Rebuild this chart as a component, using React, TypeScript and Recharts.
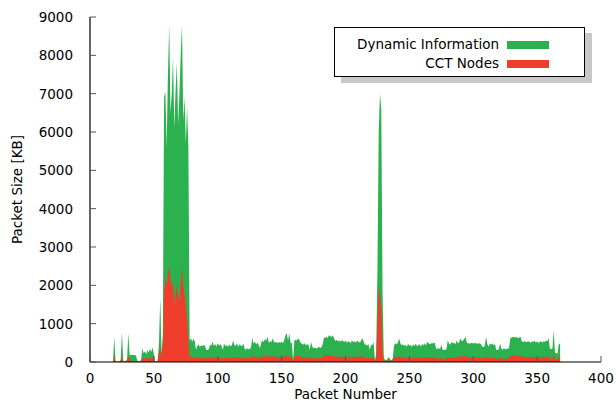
import { ComposedChart, Area, XAxis, YAxis } from 'recharts';

// packet sizes in KB, one value per packet starting at FIRST_PACKET
const FIRST_PACKET = 18;

const xTicks = [0, 50, 100, 150, 200, 250, 300, 350, 400];
const yTicks = [0, 1000, 2000, 3000, 4000, 5000, 6000, 7000, 8000, 9000];

// total size per packet (green, "Dynamic Information")
const totalSize = [
  0, 660, 20, 10, 10, 20, 60, 780, 40, 20,
  30, 60, 750, 180, 180, 180, 180, 180, 170, 30,
  20, 10, 60, 360, 230, 280, 200, 310, 240, 350,
  260, 380, 200, 20, 10, 30, 500, 1670, 230, 700,
  6900, 7050, 5600, 7500, 8800, 6500, 7000, 7950, 6100, 7100,
  7800, 6200, 7000, 8000, 8800, 6300, 6900, 5700, 6650, 5600,
  560, 620, 530, 600, 540, 320, 420, 450, 400, 440,
  410, 450, 420, 320, 310, 330, 450, 430, 530, 420,
  470, 400, 490, 430, 460, 420, 320, 490, 410, 440,
  400, 450, 420, 430, 560, 450, 420, 490, 400, 460,
  430, 410, 490, 350, 320, 360, 330, 340, 380, 620,
  480, 530, 460, 500, 450, 360, 500, 560, 520, 600,
  560, 660, 500, 540, 520, 620, 530, 500, 530, 490,
  520, 500, 530, 490, 560, 700, 750, 560, 750, 500,
  490, 50, 560, 580, 560, 620, 570, 490, 480, 450,
  490, 440, 460, 450, 320, 530, 400, 360, 370, 350,
  360, 400, 370, 380, 450, 620, 640, 660, 620, 700,
  680, 650, 700, 620, 550, 580, 540, 560, 530, 570,
  550, 520, 560, 500, 540, 530, 490, 560, 520, 540,
  500, 560, 530, 510, 540, 620, 560, 460, 450, 430,
  460, 320, 450, 440, 530, 40, 200, 2400, 6000, 7000,
  6600, 1800, 100, 60, 50, 80, 140, 60, 50, 90,
  440, 490, 460, 500, 620, 480, 440, 460, 420, 450,
  400, 470, 430, 440, 400, 460, 420, 480, 410, 440,
  460, 400, 470, 440, 480, 430, 530, 490, 460, 490,
  480, 500, 490, 330, 350, 360, 340, 450, 320, 310,
  320, 330, 560, 480, 450, 530, 490, 500, 460, 560,
  480, 520, 620, 540, 560, 600, 660, 500, 490, 480,
  490, 500, 480, 490, 500, 470, 490, 480, 470, 400,
  390, 410, 660, 470, 400, 480, 450, 490, 430, 470,
  320, 310, 330, 490, 350, 320, 360, 330, 340, 350,
  360, 620, 640, 650, 660, 640, 650, 620, 640, 660,
  540, 520, 540, 530, 520, 540, 530, 500, 540, 520,
  560, 500, 540, 490, 520, 550, 500, 540, 520, 560,
  540, 620, 350, 330, 360, 830, 240, 230, 220, 490,
  450,
];

// CCT node part per packet (red)
const cctSize = [
  0, 170, 10, 5, 5, 10, 20, 140, 20, 10,
  10, 30, 140, 100, 40, 20, 20, 20, 20, 10,
  10, 5, 20, 100, 90, 100, 80, 120, 90, 110,
  90, 120, 80, 10, 5, 20, 250, 400, 150, 500,
  1900, 2150, 2000, 2300, 2500, 2200, 1950, 2100, 1500, 1800,
  2000, 1700, 1600, 2100, 2450, 2000, 1800, 1500, 1100, 570,
  150, 140, 120, 130, 110, 100, 120, 110, 130, 100,
  120, 110, 130, 100, 90, 110, 120, 100, 130, 110,
  120, 100, 130, 110, 120, 100, 90, 130, 110, 120,
  100, 120, 110, 100, 140, 110, 120, 130, 100, 120,
  110, 100, 130, 90, 100, 110, 100, 110, 120, 160,
  130, 150, 120, 140, 130, 100, 140, 150, 130, 160,
  140, 170, 130, 150, 140, 160, 130, 120, 140, 130,
  140, 130, 150, 130, 140, 160, 170, 140, 160, 130,
  120, 20, 150, 180, 170, 160, 150, 130, 120, 110,
  130, 110, 120, 110, 90, 130, 100, 90, 100, 90,
  100, 110, 100, 110, 120, 170, 180, 170, 180, 170,
  180, 160, 170, 150, 140, 150, 130, 140, 130, 150,
  140, 130, 150, 120, 140, 130, 120, 150, 130, 140,
  120, 150, 130, 120, 140, 160, 150, 120, 110, 100,
  120, 90, 110, 120, 140, 20, 100, 1000, 2050, 1700,
  1400, 300, 40, 30, 20, 40, 60, 30, 20, 40,
  120, 130, 120, 140, 160, 130, 120, 130, 110, 120,
  100, 130, 110, 120, 100, 130, 110, 130, 100, 120,
  130, 100, 120, 110, 130, 110, 140, 130, 120, 130,
  120, 130, 120, 90, 100, 100, 90, 110, 80, 80,
  90, 90, 140, 120, 110, 130, 120, 130, 120, 150,
  130, 140, 160, 140, 150, 160, 170, 130, 120, 130,
  120, 130, 120, 130, 120, 110, 130, 120, 110, 100,
  100, 110, 160, 120, 100, 120, 110, 130, 100, 120,
  80, 80, 90, 120, 90, 80, 90, 80, 90, 90,
  100, 160, 170, 170, 180, 170, 160, 150, 160, 170,
  140, 130, 140, 130, 120, 140, 130, 120, 140, 130,
  140, 120, 130, 110, 120, 140, 120, 130, 120, 140,
  130, 150, 90, 80, 90, 230, 70, 60, 60, 120,
  110,
];

const GREEN = '#2bb24e';
const RED = '#ef3f2c';
const FONT = 'DejaVu Sans';
const TICK_COLOR = '#555';

const chartData = totalSize.map((total, i) => ({
  packet: FIRST_PACKET + i,
  total,
  cct: cctSize[i],
}));

const BottomTick = (props: any) => {
  const { x, y, payload } = props;
  return (
    <g>
      <line x1={x} y1={y} x2={x} y2={y - 6} stroke={TICK_COLOR} />
      <text x={x} y={y + 21} textAnchor="middle" fontSize={13.5} fontFamily={FONT} fill="#000">
        {payload.value}
      </text>
    </g>
  );
};

const TopTick = (props: any) => {
  const { x, y } = props;
  return <line x1={x} y1={y} x2={x} y2={y + 6} stroke={TICK_COLOR} />;
};

const LeftTick = (props: any) => {
  const { x, y, payload } = props;
  return (
    <g>
      <line x1={x} y1={y} x2={x + 6} y2={y} stroke={TICK_COLOR} />
      <text x={x - 17} y={y + 5} textAnchor="end" fontSize={13.5} fontFamily={FONT} fill="#000">
        {payload.value}
      </text>
    </g>
  );
};

const RightTick = (props: any) => {
  const { x, y } = props;
  return <line x1={x} y1={y} x2={x - 6} y2={y} stroke={TICK_COLOR} />;
};

function ChartLegend() {
  const rows = [
    { label: 'Dynamic Information', color: GREEN, top: 13 },
    { label: 'CCT Nodes', color: RED, top: 32 },
  ];
  return (
    <div
      style={{
        position: 'absolute',
        left: 334,
        top: 27,
        width: 249,
        height: 48,
        border: '1.5px solid #000',
        background: '#fff',
        boxShadow: '7px 6px 0 #c8c8c8',
        fontFamily: FONT,
        fontSize: 13.5,
      }}
    >
      {rows.map((r) => (
        <div key={r.label}>
          <div
            style={{
              position: 'absolute',
              right: 250 - 165,
              top: r.top - 6,
              lineHeight: '18px',
              whiteSpace: 'nowrap',
              color: '#000',
            }}
          >
            {r.label}
          </div>
          <div
            style={{
              position: 'absolute',
              left: 172,
              top: r.top,
              width: 42,
              height: 8,
              background: r.color,
            }}
          />
        </div>
      ))}
    </div>
  );
}

export default function App() {
  return (
    <div style={{ position: 'absolute', left: 0, top: 0, width: 616, height: 403, background: '#fff', overflow: 'hidden' }}>
      <ComposedChart width={616} height={403} data={chartData} margin={{ top: 17, right: 15, bottom: 0, left: 0 }}>
        <XAxis
          xAxisId="bottom"
          dataKey="packet"
          type="number"
          domain={[0, 400]}
          ticks={xTicks}
          height={41}
          tickSize={0}
          tickMargin={0}
          tick={<BottomTick />}
          axisLine={{ stroke: '#000', strokeWidth: 1.2 }}
          label={(p: any) => {
            const vb = p.viewBox;
            return (
              <text x={vb.x + vb.width / 2} y={399} textAnchor="middle" fontSize={13.5} fontFamily={FONT} fill="#000">
                Packet Number
              </text>
            );
          }}
        />
        <XAxis
          xAxisId="top"
          orientation="top"
          dataKey="packet"
          type="number"
          domain={[0, 400]}
          ticks={xTicks}
          height={0}
          tickSize={0}
          tickMargin={0}
          tick={<TopTick />}
          axisLine={{ stroke: '#000', strokeWidth: 1.2 }}
        />
        <YAxis
          yAxisId="left"
          type="number"
          domain={[0, 9000]}
          ticks={yTicks}
          width={90}
          tickSize={0}
          tickMargin={0}
          tick={<LeftTick />}
          axisLine={{ stroke: '#000', strokeWidth: 1.2 }}
          label={(p: any) => {
            const vb = p.viewBox;
            const cx = 17;
            const cy = vb.y + vb.height / 2;
            return (
              <text
                x={cx}
                y={cy}
                transform={`rotate(-90 ${cx} ${cy})`}
                textAnchor="middle"
                dominantBaseline="central"
                fontSize={13.5}
                fontFamily={FONT}
                fill="#000"
              >
                Packet Size [KB]
              </text>
            );
          }}
        />
        <YAxis
          yAxisId="right"
          orientation="right"
          type="number"
          domain={[0, 9000]}
          ticks={yTicks}
          width={0}
          tickSize={0}
          tickMargin={0}
          tick={<RightTick />}
          axisLine={{ stroke: '#000', strokeWidth: 1.2 }}
        />
        <Area
          xAxisId="bottom"
          yAxisId="left"
          type="linear"
          dataKey="total"
          name="Dynamic Information"
          stroke="none"
          fill={GREEN}
          fillOpacity={1}
          baseValue={0}
          dot={false}
          activeDot={false}
          isAnimationActive={false}
        />
        <Area
          xAxisId="bottom"
          yAxisId="left"
          type="linear"
          dataKey="cct"
          name="CCT Nodes"
          stroke="none"
          fill={RED}
          fillOpacity={1}
          baseValue={0}
          dot={false}
          activeDot={false}
          isAnimationActive={false}
        />
      </ComposedChart>
      <ChartLegend />
    </div>
  );
}
